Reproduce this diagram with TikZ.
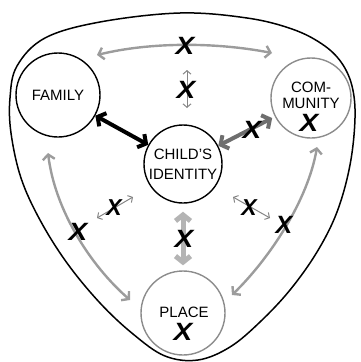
\documentclass[tikz,border=0pt]{standalone}
\usepackage{fontspec}
\setmainfont{Liberation Sans}
\usetikzlibrary{arrows.meta}
\definecolor{arcgray}{HTML}{9C9C9C}
\definecolor{midgray}{HTML}{6E6E6E}
\definecolor{lightgray}{HTML}{B4B4B4}
\definecolor{thingray}{HTML}{858585}
\definecolor{circgray}{HTML}{8C8C8C}
\newcommand{\bigX}{\scalebox{1.12}[1]{X}}
\begin{document}
\begin{tikzpicture}[x=1pt,y=-1pt,
  circ/.style={circle,draw,line width=1.4pt,inner sep=0pt,align=center,
    font=\fontsize{15}{20}\selectfont},
  lbl/.style={inner sep=0pt,align=center,font=\fontsize{15}{16}\selectfont},
  xmark/.style={inner sep=0pt,font=\fontsize{25}{25}\selectfont\bfseries\itshape},
  smallx/.style={inner sep=0pt,font=\fontsize{23}{23}\selectfont\bfseries\itshape},
  grayarc/.style={draw=arcgray,line width=2.4pt,
    {Straight Barb[length=5pt,width=12pt]}-{Straight Barb[length=5pt,width=12pt]}},
  thinarr/.style={draw=thingray,line width=1pt,
    {Straight Barb[length=3.5pt,width=8pt]}-{Straight Barb[length=3.5pt,width=8pt]}},
  boldarr/.style={line width=4pt,
    {Straight Barb[length=6pt,width=15pt]}-{Straight Barb[length=6pt,width=15pt]}}]
\useasboundingbox (0,0) rectangle (360,362);
% outer boundary
\draw[line width=1.5pt] plot[smooth cycle,tension=0.6] coordinates {
 (180,13) (247,18) (292,29) (322,44) (341,62) (352,86) (355,118) (350,165)
 (337,212) (317,252) (290,290) (260,322) (230,347) (198,360) (165,356)
 (133,334) (100,303) (67,263) (40,220) (21,178) (11,133) (10,98) (17,66)
 (45,38) (100,22)};
% circles
\node[circ,minimum size=84pt] (family) at (58,95) {FAMILY};
\node[circ,minimum size=80pt,draw=circgray] (community) at (311,98) {};
\node[circ,minimum size=78pt] (child) at (183,164) {CHILD'S\\IDENTITY};
\node[circ,minimum size=84pt,draw=circgray] (place) at (183,313) {};
\node[lbl] (comtext) at (311,95) {COM-\\MUNITY};
\node[xmark] (xcom) at (309,123) {\bigX};
\node[lbl] (placetext) at (184,312) {PLACE};
\node[xmark] (xplace) at (183,332) {\bigX};
% arc end points
\coordinate (ta) at (97,55);
\coordinate (tb) at (272,53);
\coordinate (la) at (48,153);
\coordinate (lb) at (130,300);
\coordinate (ra) at (317,147);
\coordinate (rb) at (232,295);
% gray arcs
\draw[grayarc] (ta) .. controls (150,42) and (215,42) .. (tb);
\draw[grayarc] (la) .. controls (55,210) and (90,265) .. (lb);
\draw[grayarc] (ra) .. controls (308,200) and (270,258) .. (rb);
% bold arrows between circles
\draw[boldarr] (family) -- (child);
\draw[boldarr,draw=midgray,shorten >=3pt] (child) -- (community);
\draw[boldarr,draw=lightgray,line width=5pt,shorten <=8pt,shorten >=5pt] (child) -- (place);
% small thin arrows
\coordinate (va) at (187,70);
\coordinate (vb) at (187,108);
\coordinate (sla) at (97,218);
\coordinate (slb) at (133,197);
\coordinate (sra) at (233,197);
\coordinate (srb) at (270,218);
\draw[thinarr] (va) -- (vb);
\draw[thinarr] (sla) -- (slb);
\draw[thinarr] (sra) -- (srb);
% X marks
\node[xmark] (xtop) at (185,46) {\bigX};
\node[xmark] (xvert) at (186,90) {\bigX};
\node[xmark] (xcc) at (252,130) {\bigX};
\node[xmark] (xcp) at (184,239) {\bigX};
\node[xmark] (xleft) at (78,232) {\bigX};
\node[smallx] (xsl) at (114,208) {X};
\node[xmark] (xright) at (284,225) {X};
\node[smallx] (xsr) at (249,208) {X};
\end{tikzpicture}
\end{document}
